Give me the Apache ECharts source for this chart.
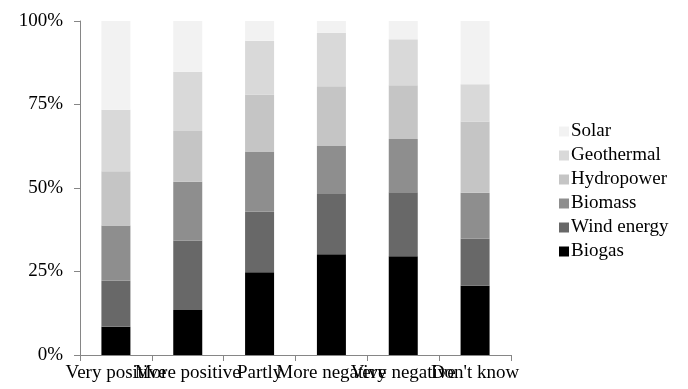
<!DOCTYPE html>
<html>
<head>
<meta charset="utf-8">
<script src="https://cdn.jsdelivr.net/npm/echarts@6/dist/echarts.min.js"></script>
<style>
html,body{margin:0;padding:0;background:#fff;}
#chart{width:688px;height:389px;}
</style>
</head>
<body>
<div id="chart"></div>
<script>
var categories = ['Very positive', 'More positive', 'Partly', 'More negative', 'Very negative', "Don't know"];
var biogas     = [8.5, 13.5, 24.8, 30.2, 29.6, 20.7];
var windEnergy = [13.7, 20.8, 18.1, 18.0, 19.1, 14.1];
var biomass    = [16.6, 17.6, 18.0, 14.4, 16.0, 13.8];
var hydropower = [16.2, 15.2, 17.1, 17.9, 16.1, 21.3];
var geothermal = [18.4, 17.7, 16.1, 16.0, 13.7, 11.2];
var solar      = [26.6, 15.2, 5.9, 3.5, 5.5, 18.9];
var yTicks = [0, 25, 50, 75, 100];

var seriesDefs = [
  ['Biogas', biogas, '#000000'],
  ['Wind energy', windEnergy, '#686868'],
  ['Biomass', biomass, '#8e8e8e'],
  ['Hydropower', hydropower, '#c5c5c5'],
  ['Geothermal', geothermal, '#d9d9d9'],
  ['Solar', solar, '#f2f2f2']
];

var font = 'Liberation Serif';
var chart = echarts.init(document.getElementById('chart'));
chart.setOption({
  animation: false,
  backgroundColor: '#ffffff',
  grid: {left: 80, right: 177, top: 21, bottom: 34},
  legend: {
    orient: 'vertical',
    left: 554,
    top: 117,
    itemWidth: 10,
    itemHeight: 10,
    itemGap: 5,
    icon: 'rect',
    data: ['Solar', 'Geothermal', 'Hydropower', 'Biomass', 'Wind energy', 'Biogas'],
    textStyle: {fontFamily: font, fontSize: 19, color: '#000', lineHeight: 19, padding: [0, 0, 0, -3]}
  },
  xAxis: {
    type: 'category',
    data: categories,
    axisLine: {lineStyle: {color: '#868686', width: 1}},
    axisTick: {show: true, length: 6, lineStyle: {color: '#868686'}},
    axisLabel: {fontFamily: font, fontSize: 19, color: '#000', interval: 0, margin: 9}
  },
  yAxis: {
    type: 'value',
    min: yTicks[0],
    max: yTicks[yTicks.length - 1],
    interval: 25,
    splitLine: {show: false},
    axisLine: {show: true, lineStyle: {color: '#868686', width: 1}},
    axisTick: {show: true, length: 6, lineStyle: {color: '#868686'}},
    axisLabel: {fontFamily: font, fontSize: 19, color: '#000', margin: 17, formatter: '{value}%'}
  },
  series: seriesDefs.map(function (d) {
    return {
      name: d[0],
      type: 'bar',
      stack: 'total',
      data: d[1],
      barWidth: 29,
      itemStyle: {color: d[2]}
    };
  })
});
</script>
</body>
</html>
